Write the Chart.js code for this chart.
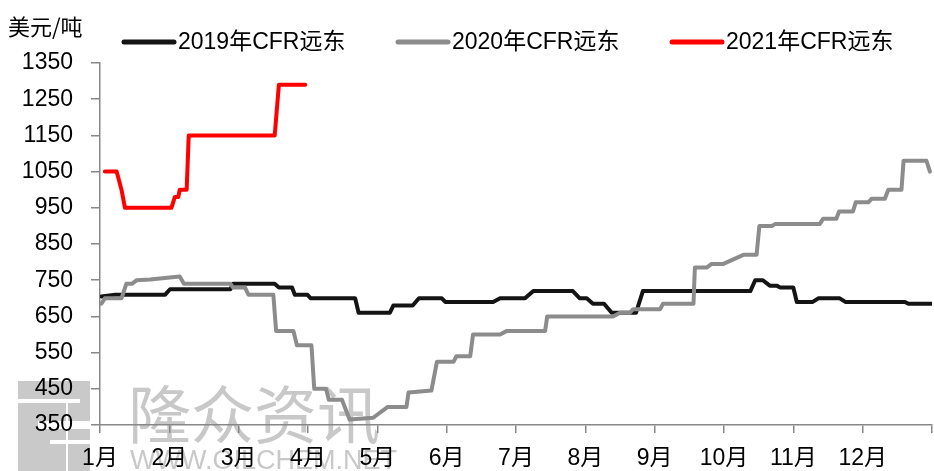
<!DOCTYPE html>
<html>
<head>
<meta charset="utf-8">
<script src="https://cdn.jsdelivr.net/npm/chart.js@4.4.1/dist/chart.umd.min.js"></script>
<style>
  html, body { margin: 0; padding: 0; background: #fff; }
  #wrap { width: 934px; height: 471px; position: relative; }
</style>
</head>
<body>
<div id="wrap"><canvas id="c" width="934" height="471"></canvas></div>
<script>
// ---- data (x = position in months from 1月 start, y = 美元/吨) ----
const seriesNames = ['2019年CFR远东', '2020年CFR远东', '2021年CFR远东'];
const monthLabels = ['1月','2月','3月','4月','5月','6月','7月','8月','9月','10月','11月','12月'];
const yTicks = [350, 450, 550, 650, 750, 850, 950, 1050, 1150, 1250, 1350];

const x2019 = [0.02,0.22,0.94,1.01,1.88,1.92,2.52,2.58,2.77,2.81,2.99,3.04,3.68,3.73,4.18,4.23,4.51,4.60,4.93,4.98,5.67,5.77,6.13,6.25,6.82,6.92,7.02,7.11,7.27,7.38,7.73,7.83,9.38,9.45,9.56,9.66,9.76,9.81,10.00,10.05,10.28,10.36,10.67,10.75,11.61,11.66,12.00];
const y2019 = [705,710,710,725,725,740,740,730,730,710,710,700,700,660,660,680,680,700,700,690,690,700,700,720,720,700,700,685,685,660,660,720,720,750,750,735,735,730,730,690,690,700,700,690,690,685,685];

const x2020 = [0.02,0.07,0.31,0.38,0.46,0.53,0.72,1.15,1.21,1.88,1.92,2.09,2.14,2.50,2.54,2.79,2.84,3.05,3.09,3.26,3.30,3.49,3.60,3.94,4.15,4.42,4.45,4.78,4.86,5.10,5.14,5.34,5.38,5.77,5.87,6.42,6.45,7.40,7.50,7.64,7.69,8.08,8.12,8.56,8.58,8.75,8.82,8.99,9.28,9.47,9.51,9.69,9.74,10.38,10.43,10.62,10.66,10.86,10.90,11.08,11.13,11.32,11.37,11.56,11.59,11.92,11.97];
const y2020 = [685,700,700,740,740,750,752,760,740,740,730,730,710,710,610,610,570,570,450,450,420,420,365,370,400,400,440,445,525,525,540,540,600,600,610,610,650,650,660,660,670,670,685,685,785,785,795,795,820,820,900,900,905,905,920,920,940,940,965,965,975,975,1000,1000,1080,1080,1050];

const x2021 = [0.07,0.24,0.31,0.36,1.03,1.08,1.13,1.15,1.25,1.28,2.52,2.58,2.96];
const y2021 = [1050,1050,1000,950,950,980,980,1000,1000,1150,1150,1290,1290];

function pts(xs, ys) { return xs.map((x, i) => ({ x: x, y: ys[i] })); }

const FONT = '"Liberation Sans", "Noto Sans CJK SC", sans-serif';
const colors = ['#141414', '#8c8c8c', '#ff0000'];

const bgPlugin = {
  id: 'decor',
  beforeDraw(chart) {
    const ctx = chart.ctx;
    ctx.save();
    // watermark logo
    ctx.fillStyle = '#c9c9c9';
    ctx.fillRect(18, 381, 72, 90);
    ctx.fillStyle = '#ffffff';
    ctx.fillRect(18, 399, 62, 4);
    ctx.fillRect(38, 421, 52, 8);
    ctx.fillRect(50, 440, 40, 4);
    ctx.fillRect(66, 403, 2, 68);
    // watermark text
    ctx.fillStyle = '#c8c8c8';
    ctx.font = '63px "Noto Sans CJK SC", sans-serif';
    ctx.textBaseline = 'alphabetic';
    ctx.textAlign = 'left';
    ctx.fillText('隆众资讯', 128, 438);
    ctx.font = '27px "Liberation Sans", sans-serif';
    ctx.fillText('WWW.OILCHEM.NET', 130, 469);
    ctx.restore();
  },
  afterDraw(chart) {
    const ctx = chart.ctx;
    ctx.save();
    ctx.fillStyle = '#000';
    ctx.font = '22px "Noto Sans CJK SC", sans-serif';
    ctx.textBaseline = 'middle';
    ctx.textAlign = 'left';
    ctx.fillText('美元/吨', 8, 27);
    const lx = [122, 396, 670];
    chart.data.datasets.forEach((ds, i) => {
      ctx.strokeStyle = ds.borderColor;
      ctx.lineWidth = 5;
      ctx.lineCap = 'round';
      ctx.beginPath();
      ctx.moveTo(lx[i] + 2, 42);
      ctx.lineTo(lx[i] + 52, 42);
      ctx.stroke();
      ctx.fillStyle = '#000';
      ctx.font = '23px ' + FONT;
      ctx.fillText(ds.label, lx[i] + 56, 43);
    });
    ctx.restore();
  }
};

new Chart(document.getElementById('c'), {
  type: 'line',
  data: {
    datasets: [
      { label: seriesNames[0], data: pts(x2019, y2019), borderColor: colors[0], backgroundColor: colors[0], order: 2 },
      { label: seriesNames[1], data: pts(x2020, y2020), borderColor: colors[1], backgroundColor: colors[1], order: 1 },
      { label: seriesNames[2], data: pts(x2021, y2021), borderColor: colors[2], backgroundColor: colors[2], order: 0 }
    ]
  },
  options: {
    responsive: false,
    animation: false,
    layout: { padding: { top: 63, right: 2, left: 0, bottom: 0 } },
    elements: {
      line: { borderWidth: 4, tension: 0, borderJoinStyle: 'round', borderCapStyle: 'round' },
      point: { radius: 0, hoverRadius: 0 }
    },
    plugins: { legend: { display: false }, tooltip: { enabled: false } },
    scales: {
      x: {
        type: 'linear', min: 0, max: 12,
        afterBuildTicks(scale) { scale.ticks = monthLabels.map((_, i) => ({ value: i })).concat([{ value: 12 }]); },
        ticks: {
          autoSkip: false, maxRotation: 0, padding: 12, color: '#000',
          font: { family: FONT, size: 23 },
          callback(v) { return v < 12 ? monthLabels[v] : ''; }
        },
        grid: { drawOnChartArea: false, drawTicks: true, tickLength: 8, color: '#878787', lineWidth: 1.5 },
        border: { color: '#878787', width: 1.5 },
        afterFit(scale) { scale.height = 46; scale.paddingLeft = 0; scale.paddingRight = 0; }
      },
      y: {
        min: 350, max: 1350,
        afterBuildTicks(scale) { scale.ticks = yTicks.map(v => ({ value: v })); },
        ticks: { padding: 18, color: '#000', font: { family: FONT, size: 23 }, callback(v) { return String(v); } },
        grid: { drawOnChartArea: false, drawTicks: true, tickLength: 9, color: '#878787', lineWidth: 1.5 },
        border: { color: '#878787', width: 1.5 },
        afterFit(scale) { scale.width = 100; }
      }
    }
  },
  plugins: [bgPlugin]
});
</script>
</body>
</html>
